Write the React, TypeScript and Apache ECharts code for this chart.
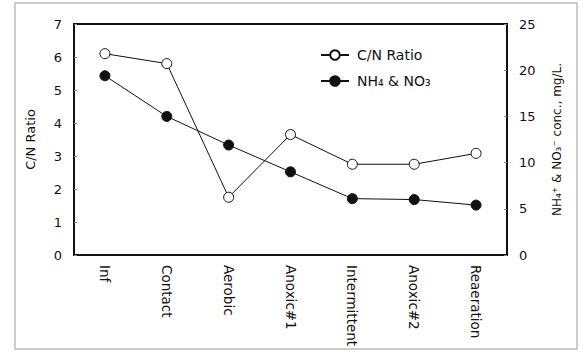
import React, { useEffect, useRef } from "react";
import * as echarts from "echarts";

const categories = ["Inf", "Contact", "Aerobic", "Anoxic#1", "Intermittent", "Anoxic#2", "Reaeration"];
const cnRatio = [6.1, 5.8, 1.75, 3.65, 2.75, 2.75, 3.08];
const nConc = [19.4, 15.0, 11.9, 9.0, 6.1, 6.0, 5.4];
const leftTicks = [0, 7, 1];
const rightTicks = [0, 25, 5];

const FONT = "'DejaVu Sans', 'Liberation Sans', Arial, sans-serif";

export default function App() {
  const ref = useRef<HTMLDivElement>(null);
  useEffect(() => {
    if (!ref.current) return;
    const chart = echarts.init(ref.current, undefined, { renderer: "svg" });
    chart.setOption({
      animation: false,
      backgroundColor: "#fff",
      textStyle: { fontFamily: FONT, color: "#111" },
      graphic: [
        {
          type: "rect",
          shape: { x: 15, y: 3, width: 562, height: 346 },
          style: { fill: "none", stroke: "#999", lineWidth: 1 },
        },
      ],
      legend: {
        left: 315,
        top: 43,
        orient: "vertical",
        itemGap: 12,
        itemWidth: 28,
        itemHeight: 12,
        textStyle: { fontFamily: FONT, fontSize: 14, color: "#111", padding: [0, 0, 0, 3] },
        data: ["C/N Ratio", "NH\u2084 & NO\u2083"],
      },
      grid: { left: 74, right: 74, top: 24, bottom: 101, show: true, borderColor: "#111", borderWidth: 2 },
      xAxis: {
        type: "category",
        data: categories,
        boundaryGap: true,
        axisLine: { lineStyle: { color: "#111", width: 2 } },
        axisTick: { inside: true, length: 3, lineStyle: { color: "#666" } },
        axisLabel: {
          rotate: -90,
          margin: 10,
          fontFamily: FONT,
          fontSize: 13.5,
          color: "#111",
        },
      },
      yAxis: [
        {
          type: "value",
          min: leftTicks[0],
          max: leftTicks[1],
          interval: leftTicks[2],
          name: "C/N Ratio",
          nameLocation: "middle",
          nameGap: 37,
          nameTextStyle: { fontFamily: FONT, fontSize: 13, color: "#111" },
          axisLine: { show: true, lineStyle: { color: "#111", width: 2 } },
          axisTick: { show: true, inside: true, length: 3, lineStyle: { color: "#888" } },
          axisLabel: { fontFamily: FONT, fontSize: 13, color: "#111", margin: 12 },
          splitLine: { show: false },
        },
        {
          type: "value",
          min: rightTicks[0],
          max: rightTicks[1],
          interval: rightTicks[2],
          name: "NH\u2084\u207A & NO\u2083\u207B conc., mg/L.",
          nameLocation: "middle",
          nameGap: 44,
          nameRotate: 90,
          nameTextStyle: { fontFamily: FONT, fontSize: 12, color: "#111" },
          axisLine: { show: true, lineStyle: { color: "#111", width: 2 } },
          axisTick: { show: true, inside: true, length: 3, lineStyle: { color: "#888" } },
          axisLabel: { fontFamily: FONT, fontSize: 13, color: "#111", margin: 12 },
          splitLine: { show: false },
        },
      ],
      series: [
        {
          name: "C/N Ratio",
          type: "line",
          yAxisIndex: 0,
          data: cnRatio,
          symbol: "circle",
          symbolSize: 10,
          itemStyle: { color: "#fff", borderColor: "#111", borderWidth: 1 },
          lineStyle: { color: "#111", width: 1 },
        },
        {
          name: "NH\u2084 & NO\u2083",
          type: "line",
          yAxisIndex: 1,
          data: nConc,
          symbol: "circle",
          symbolSize: 10,
          itemStyle: { color: "#111", borderColor: "#111", borderWidth: 1 },
          lineStyle: { color: "#111", width: 1 },
        },
      ],
    });
    return () => chart.dispose();
  }, []);
  return <div ref={ref} style={{ width: 581, height: 356, position: "absolute", left: 0, top: 0 }} />;
}
